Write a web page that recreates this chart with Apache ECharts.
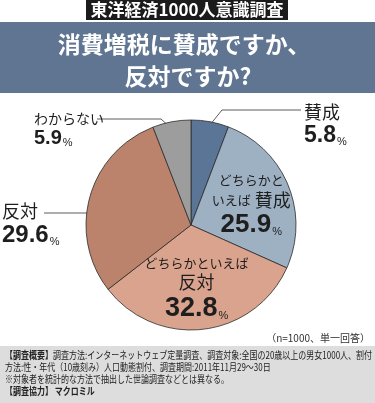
<!DOCTYPE html>
<html><head><meta charset="utf-8">
<script src="https://cdn.jsdelivr.net/npm/echarts@6/dist/echarts.min.js"></script>
<style>html,body{margin:0;padding:0;background:#fff}#c{width:375px;height:403px}</style>
</head><body><div id="c"></div>
<script>
// ---- data ----
const categories = ['賛成', 'どちらかといえば賛成', 'どちらかといえば反対', '反対', 'わからない'];
const values = [5.8, 25.9, 32.8, 29.6, 5.9];
const labelNames = ['{b|賛成}', 'どちらかと\nいえば{b|賛成}', 'どちらかといえば\n{b|反対}', '{b|反対}', 'わからない'];
const colors = ['#5b7596', '#9eb1c3', '#d9a38d', '#bb826c', '#9d9d9d'];
const headerText = '東洋経済1000人意識調査';
const titleLines = ['消費増税に賛成ですか、', '反対ですか?'];
const noteText = '（n=1000、単一回答）';
const footerLines = [
  '{b|【調査概要】}調査方法:インターネットウェブ定量調査、調査対象:全国の20歳以上の男女1000人、割付',
  '方法:性・年代（10歳刻み）人口動態割付、調査期間:2011年11月29〜30日',
  '※対象者を統計的な方法で抽出した世論調査などとは異なる。',
  '{b|【調査協力】 マクロミル}'
];

// ---- layout ----
const CX = 191, CY = 225, R = 105;
const JP = '"Noto Sans CJK JP", sans-serif';
const NUM = '"Liberation Sans Narrow", "Liberation Sans", Arial, sans-serif';
const numSizes = [23, 26, 27, 24, 20];
const nameSizes = [14, 13, 13, 14, 14];
const inside = [false, true, true, false, false];
const total = values.reduce((a, b) => a + b, 0);
function midPoint(i, rr) {
  let cum = 0; for (let k = 0; k < i; k++) cum += values[k];
  const a = (cum + values[i] / 2) / total * 2 * Math.PI;
  return [CX + Math.sin(a) * R * rr, CY - Math.cos(a) * R * rr];
}
const outPos = {
  0: { x: 304, y: 101, lineY: 110 },
  3: { x: 2, y: 200, lineY: 213 },
  4: { x: 34, y: 110, lineY: 119 }
};
const insideShift = { 1: [9, 2], 2: [-1, 9] };

function richFor(i) {
  return {
    b: { fontSize: 18, lineHeight: 22, fontFamily: JP, color: '#1e1e1e', padding: i === 1 ? [0, 0, 0, 4] : 0 },
    n: { fontSize: numSizes[i], lineHeight: numSizes[i] + 3, fontFamily: NUM, fontWeight: 'bold', color: '#1e1e1e' },
    p: { fontSize: 11, fontFamily: NUM, color: '#1e1e1e', verticalAlign: 'bottom', padding: [0, 0, 2, 1] }
  };
}

const data = categories.map((c, i) => ({
  name: c,
  value: values[i],
  itemStyle: { color: colors[i] },
  label: {
    show: true,
    position: inside[i] ? 'inside' : 'outside',
    align: inside[i] ? 'center' : 'left',
    formatter: labelNames[i] + '\n{n|' + values[i].toFixed(1) + '}{p|%}',
    fontFamily: JP, fontSize: nameSizes[i], lineHeight: 17, color: '#1e1e1e',
    rich: richFor(i)
  },
  labelLine: { show: !inside[i] }
}));

const chart = echarts.init(document.getElementById('c'), null, { renderer: 'canvas' });
chart.setOption({
  animation: false,
  backgroundColor: '#ffffff',
  graphic: [
    { type: 'rect', shape: { x: 86, y: 0, width: 202, height: 20 }, style: { fill: '#1b1b1b' } },
    { type: 'text', x: 187, y: 10, style: { text: headerText, fill: '#fff', font: 'bold 17px ' + JP, align: 'center', verticalAlign: 'middle' } },
    { type: 'rect', shape: { x: 0, y: 22, width: 375, height: 71 }, style: { fill: '#5f7592' } },
    { type: 'text', x: 184, y: 44, style: { text: titleLines[0], fill: '#fff', font: 'bold 23px ' + JP, align: 'center', verticalAlign: 'middle' } },
    { type: 'text', x: 188, y: 76, style: { text: titleLines[1], fill: '#fff', font: 'bold 23px ' + JP, align: 'center', verticalAlign: 'middle' } },
    { type: 'text', x: 370, y: 338, style: { text: noteText, fill: '#333', font: '10px ' + JP, align: 'right', verticalAlign: 'middle' } },
    { type: 'rect', shape: { x: 0, y: 346, width: 375, height: 57 }, style: { fill: '#dddddd' } },
    ...footerLines.map((t, k) => ({
      type: 'text', x: 5, y: 355 + k * 12, scaleX: 0.8,
      style: { text: t, fill: '#222', font: '10px ' + JP, align: 'left', verticalAlign: 'middle',
        rich: { b: { fontFamily: JP, fontSize: 10, fontWeight: 'bold', fill: '#222' } } }
    }))
  ],
  series: [{
    type: 'pie',
    center: [CX, CY],
    radius: R,
    startAngle: 90,
    clockwise: true,
    avoidLabelOverlap: false,
    emphasis: { disabled: true, scale: false },
    itemStyle: { borderColor: '#2b2b2b', borderWidth: 0.8 },
    labelLine: { lineStyle: { color: '#333', width: 0.8 }, length: 10, length2: 20 },
    data: data,
    labelLayout: function (params) {
      const i = params.dataIndex;
      if (inside[i]) {
        const s = insideShift[i];
        return { dx: s[0], dy: s[1] };
      }
      const o = outPos[i];
      let pts;
      if (i === 0) {
        const p = midPoint(i, 0.96);
        const elbow = [p[0] + (p[1] - o.lineY) * 0.8, o.lineY];
        pts = [p, elbow, [o.x - 3, o.lineY]];
      } else if (i === 4) {
        const p = midPoint(i, 0.92);
        const elbow = [p[0] - (p[1] - o.lineY) * 1.1, o.lineY];
        pts = [p, elbow, [o.x + 63, o.lineY]];
      } else {
        pts = [[CX - 79, o.lineY], [CX - 110, o.lineY], [o.x + 42, o.lineY]];
      }
      return { x: o.x, y: o.y, align: 'left', verticalAlign: 'top', labelLinePoints: pts };
    }
  }]
});
</script>
</body></html>
